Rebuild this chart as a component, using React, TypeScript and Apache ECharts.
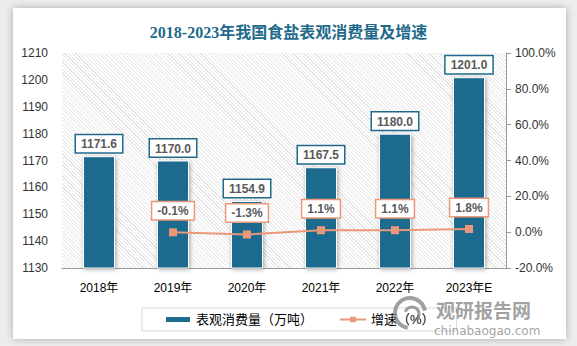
import React, { useEffect, useRef } from "react";
import * as echarts from "echarts";

const categories = ["2018年", "2019年", "2020年", "2021年", "2022年", "2023年E"];
const consumption = [1171.6, 1170.0, 1154.9, 1167.5, 1180.0, 1201.0];
const growth: (number | null)[] = [null, -0.1, -1.3, 1.1, 1.1, 1.8];
const titleText = "2018-2023年我国食盐表观消费量及增速";
const seriesNames = ["表观消费量（万吨）", "增速（%）"];

const W = 577;
const H = 346;
const GRID = { left: 62, right: 71, top: 53, bottom: 78 };
const BLUE = "#1d6a8e";
const ORANGE = "#e9997a";
const FONT = "'Liberation Sans', 'Noto Sans CJK SC', sans-serif";
const WM = "rgba(120,120,120,0.7)";

export default function App() {
  const ref = useRef<HTMLDivElement>(null);
  useEffect(() => {
    if (!ref.current) return;
    const chart = echarts.init(ref.current, null, { renderer: "svg", width: W, height: H });
    chart.setOption({
      animation: false,
      backgroundColor: "transparent",
      textStyle: { fontFamily: FONT },
      title: {
        text: titleText,
        left: "center",
        top: 19,
        textStyle: {
          fontFamily: "'Liberation Serif', 'Noto Sans CJK SC', serif",
          fontSize: 16,
          fontWeight: "bold",
          color: "#1f6a8c",
        },
      },
      grid: { ...GRID },
      legend: {
        data: [
          { name: seriesNames[0], icon: "rect" },
          { name: seriesNames[1] },
        ],
        left: 142,
        top: 308,
        width: 296,
        padding: [5, 22, 5, 22],
        borderColor: "#d9d9d9",
        borderWidth: 1,
        itemGap: 26,
        itemWidth: 26,
        itemHeight: 7,
        textStyle: { fontSize: 13, color: "#000", fontFamily: FONT },
      },
      xAxis: {
        type: "category",
        data: categories,
        axisLine: { onZero: false, lineStyle: { color: "#9a9a9a" } },
        axisTick: { show: false },
        axisLabel: { color: "#000", fontSize: 12, margin: 13, lineHeight: 14 },
      },
      yAxis: [
        {
          type: "value",
          min: 1130,
          max: 1210,
          interval: 10,
          axisLine: { show: false },
          axisTick: { show: false },
          splitLine: { show: false },
          axisLabel: { color: "#333", fontSize: 12, margin: 14, formatter: (v: number) => String(v) },
        },
        {
          type: "value",
          min: -20,
          max: 100,
          interval: 20,
          position: "right",
          axisLine: { show: true, lineStyle: { color: "#9a9a9a" } },
          axisTick: { show: true, length: 5, lineStyle: { color: "#9a9a9a" } },
          splitLine: { show: false },
          axisLabel: {
            color: "#333",
            fontSize: 12,
            margin: 9,
            formatter: (v: number) => v.toFixed(1) + "%",
          },
        },
      ],
      graphic: [
        {
          type: "arc",
          shape: { cx: 410, cy: 313, r: 15, startAngle: Math.PI * 0.55, endAngle: Math.PI * 1.95 },
          style: { stroke: WM, lineWidth: 4, fill: "none" },
          silent: true,
          z: 100,
        },
        {
          type: "arc",
          shape: { cx: 412, cy: 314, r: 7, startAngle: Math.PI * 1.1, endAngle: Math.PI * 2.3 },
          style: { stroke: WM, lineWidth: 3, fill: "none" },
          silent: true,
          z: 100,
        },
        {
          type: "text",
          left: 436,
          top: 300,
          style: {
            text: "观研报告网",
            font: "bold 19px 'Noto Sans CJK SC', sans-serif",
            lineHeight: 19,
            fill: WM,
          },
          silent: true,
          z: 100,
        },
        {
          type: "text",
          left: 434,
          top: 325,
          style: {
            text: "chinabaogao.com",
            font: "12px 'DejaVu Sans', sans-serif",
            lineHeight: 12,
            fill: WM,
          },
          silent: true,
          z: 100,
        },
      ],
      series: [
        {
          name: seriesNames[0],
          type: "bar",
          data: consumption,
          barWidth: 32,
          itemStyle: {
            color: BLUE,
            borderColor: "#fff",
            borderWidth: 1,
            shadowBlur: 4,
            shadowColor: "rgba(0,0,0,0.35)",
            shadowOffsetX: 1,
            shadowOffsetY: 1,
          },
          label: {
            show: true,
            position: "top",
            distance: 4,
            formatter: (p: any) => Number(p.value).toFixed(1),
            backgroundColor: "#fff",
            borderColor: "#1f6a8c",
            borderWidth: 1.5,
            padding: [3, 5, 2, 5],
            color: "#595959",
            fontWeight: "bold",
            fontSize: 12,
          },
        },
        {
          name: seriesNames[1],
          type: "line",
          yAxisIndex: 1,
          data: growth,
          symbol: "rect",
          symbolSize: 8,
          lineStyle: { color: ORANGE, width: 2 },
          itemStyle: { color: ORANGE },
          label: {
            show: true,
            position: "top",
            distance: 9,
            formatter: (p: any) => Number(p.value).toFixed(1) + "%",
            backgroundColor: "#fff",
            borderColor: ORANGE,
            borderWidth: 1.5,
            padding: [3, 5, 2, 5],
            color: "#595959",
            fontWeight: "bold",
            fontSize: 12,
          },
          z: 5,
        },
      ],
    });
    return () => chart.dispose();
  }, []);

  return (
    <div
      style={{
        position: "absolute",
        left: 0,
        top: 0,
        width: W,
        height: H,
        background: "#ededed",
        overflow: "hidden",
      }}
    >
      <div
        style={{
          position: "absolute",
          left: 13,
          top: 8,
          width: 553,
          height: 331,
          background: "#fff",
          boxShadow: "0 0 8px rgba(0,0,0,0.28)",
        }}
      />
      <div
        style={{
          position: "absolute",
          left: GRID.left,
          top: GRID.top,
          width: W - GRID.left - GRID.right,
          height: H - GRID.top - GRID.bottom,
          backgroundImage:
            "repeating-linear-gradient(45deg, #e2e2e2 0px, #e2e2e2 0.8px, #ffffff 0.8px, #ffffff 2.6px)",
        }}
      />
      <div ref={ref} style={{ position: "absolute", left: 0, top: 0, width: W, height: H }} />
    </div>
  );
}
